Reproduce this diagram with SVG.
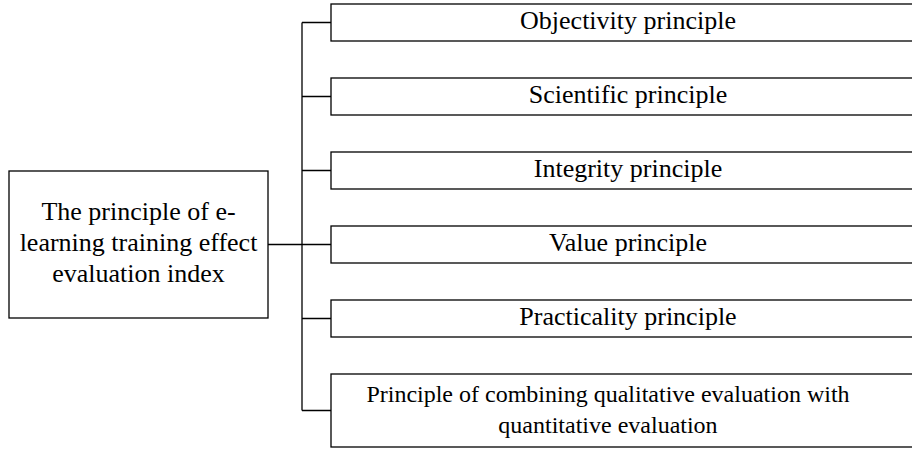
<svg xmlns="http://www.w3.org/2000/svg" width="912" height="450" viewBox="0 0 912 450">
<style>
.box{fill:#fff;stroke:#000;stroke-width:1.3}
.conn{fill:none;stroke:#000;stroke-width:1.3}
.t{font-family:'Liberation Serif','Times New Roman',Times,serif;font-size:26px;fill:#000;text-anchor:middle}
.s{font-size:24px}
</style>
<rect width="912" height="450" fill="#fff"/>
<g id="connectors">
<path class="conn" d="M268 244.5H302M302 22.5V410.5M302 22.5H331M302 96.5H331M302 170.5H331M302 244.5H331M302 318.5H331M302 410.5H331"/>
</g>
<g id="root">
<rect class="box" x="9" y="171" width="259" height="147"/>
<text class="t" x="138.5" y="220">The principle of e-</text>
<text class="t" x="138.5" y="251">learning training effect</text>
<text class="t" x="138.5" y="282">evaluation index</text>
</g>
<g id="n1">
<rect class="box" x="331" y="4" width="600" height="37"/>
<text class="t" x="628" y="29">Objectivity principle</text>
</g>
<g id="n2">
<rect class="box" x="331" y="78" width="600" height="37"/>
<text class="t" x="628" y="103">Scientific principle</text>
</g>
<g id="n3">
<rect class="box" x="331" y="152" width="600" height="37"/>
<text class="t" x="628" y="177">Integrity principle</text>
</g>
<g id="n4">
<rect class="box" x="331" y="226" width="600" height="37"/>
<text class="t" x="628" y="251">Value principle</text>
</g>
<g id="n5">
<rect class="box" x="331" y="300" width="600" height="37"/>
<text class="t" x="628" y="325">Practicality principle</text>
</g>
<g id="n6">
<rect class="box" x="331" y="374" width="600" height="73"/>
<text class="t s" x="608" y="402">Principle of combining qualitative evaluation with</text>
<text class="t s" x="608" y="433">quantitative evaluation</text>
</g>
</svg>
